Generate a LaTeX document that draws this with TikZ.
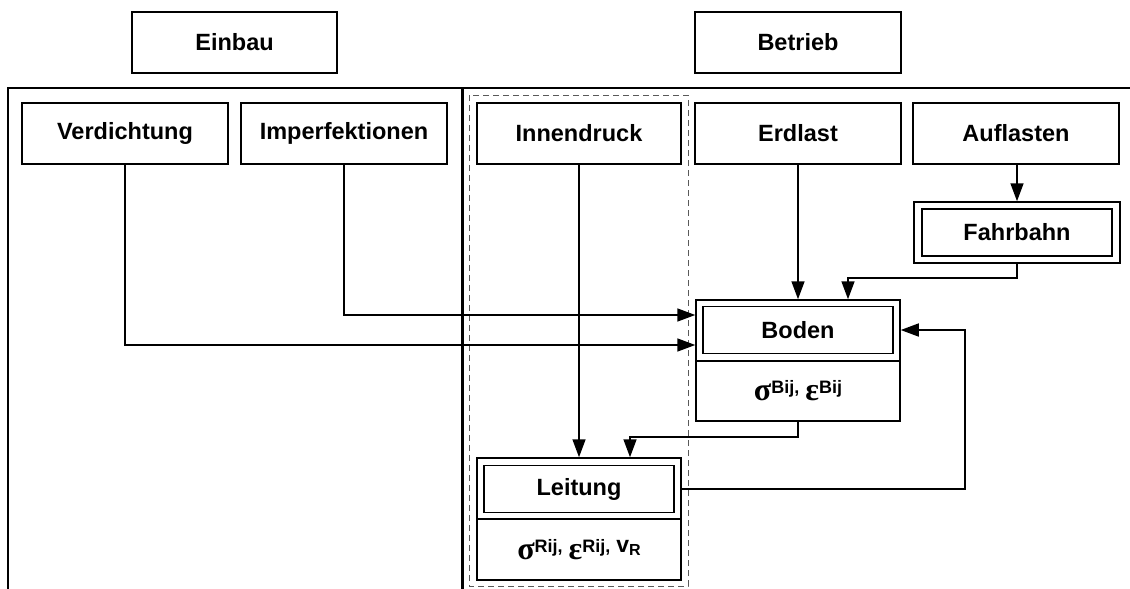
\documentclass[tikz,border=0pt]{standalone}
\usepackage{fontspec}
\setmainfont{Liberation Sans}
\newfontfamily\greekf{Liberation Serif}
\usetikzlibrary{arrows.meta}
\newcommand\gsym[1]{{\greekf\bfseries\fontsize{32}{32}\selectfont #1}}
\newcommand\supx[1]{\raisebox{7pt}{\fontsize{18}{18}\selectfont\bfseries #1}}
\begin{document}
\begin{tikzpicture}[x=1pt,y=-1pt,
  lbl/.style={font=\fontsize{23.5}{28}\selectfont\bfseries},
  box/.style={lbl,draw,line width=1.5pt,minimum width=206pt,minimum height=61pt,inner sep=0pt},
  ibox/.style={lbl,draw,line width=1.5pt,minimum width=190pt,minimum height=47pt,inner sep=0pt},
  obox/.style={draw,line width=1.5pt,minimum width=204pt,minimum height=61pt,inner sep=0pt},
  arr/.style={line width=1.6pt,-{Triangle[length=18pt,width=13pt]}},
  framel/.style={line width=2.2pt},
  grp/.style={draw=black!65,dashed,dash pattern=on 6pt off 4pt,line width=1pt}
]
\useasboundingbox (0,0) rectangle (1130,589);
% outer frame
\draw[framel] (8,589) -- (8,88) -- (1130,88);
\draw[line width=3pt] (462,88) -- (462,589);
\draw[grp] (469,95) rectangle (688,586);

% headers
\node[box,minimum width=205pt] (einbau) at (234.5,42.5) {Einbau};
\node[box] (betrieb) at (798,42.5) {Betrieb};

% top row
\node[box] (verd) at (125,133.5) {Verdichtung};
\node[box] (imperf) at (344,133.5) {Imperfektionen};
\node[box,minimum width=204pt] (innen) at (579,133.5) {Innendruck};
\node[box] (erdlast) at (798,133.5) {Erdlast};
\node[box] (auflasten) at (1016,133.5) {Auflasten};

% Fahrbahn
\node[obox,minimum width=206pt] (fahrbahn) at (1017,232.5) {};
\node[ibox] (fahrbahnin) at (1017,232.5) {Fahrbahn};

% Boden
\node[obox] (boden) at (798,330.5) {};
\node[ibox] (bodenin) at (798,330) {Boden};
\node[obox,minimum height=60pt] (bodenval) at (798,391) {\gsym{σ}\supx{Bij,}\hspace{6pt}\gsym{ε}\supx{Bij}};

% Leitung
\node[obox] (leitung) at (579,488.5) {};
\node[ibox] (leitungin) at (579,489) {Leitung};
\node[obox] (leitungval) at (579,549.5) {\gsym{σ}\supx{Rij,}\hspace{6pt}\gsym{ε}\supx{Rij,}\hspace{6pt}\raisebox{7pt}{\fontsize{23}{23}\selectfont\bfseries v}\raisebox{4pt}{\fontsize{16}{16}\selectfont\bfseries R}};

% connectors
\draw[arr] (verd.south) |- (boden.west |- 0,345);
\draw[arr] (imperf.south) |- (boden.west |- 0,315);
\draw[arr] (erdlast.south) -- (boden.north -| erdlast.south);
\draw[arr] (auflasten.south -| fahrbahn.north) -- (fahrbahn.north);
\draw[arr] (fahrbahn.south) -- ++(0,14) -| (boden.north -| 848,0);
\draw[arr] (innen.south) -- (leitung.north -| innen.south);
\draw[arr] (bodenval.south) -- ++(0,15) -| (leitung.north -| 630,0);
\draw[arr] (leitung.east |- leitungin.center) -- (965,489) |- (boden.east |- bodenin.center);
\end{tikzpicture}
\end{document}
